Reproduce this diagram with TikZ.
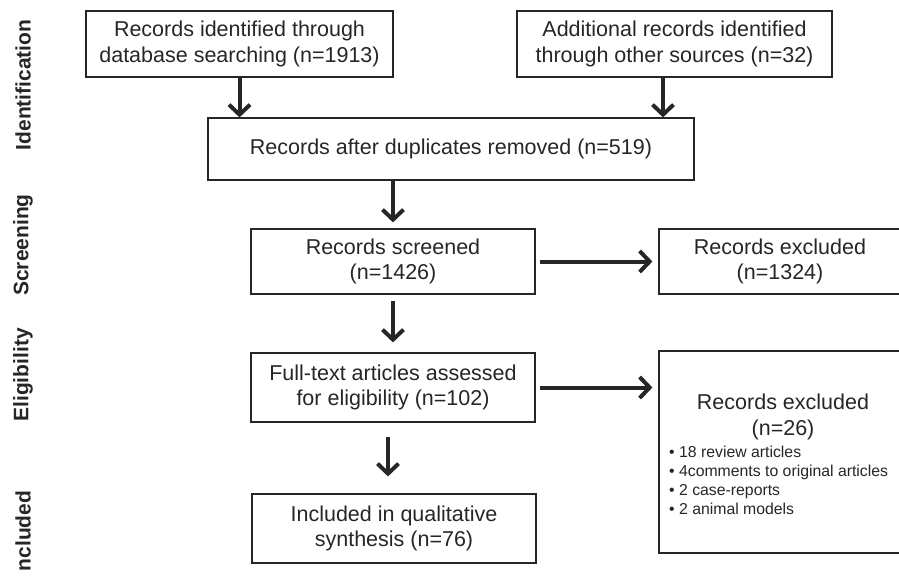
\documentclass[tikz,border=0pt]{standalone}
\usepackage{fontspec}
\setmainfont{Liberation Sans}
\usetikzlibrary{arrows.meta,calc}
\begin{document}
\begin{tikzpicture}[x=1pt,y=-1pt,
  box/.style={draw=black!85,line width=1.2pt,rectangle,inner sep=0pt,align=center,
    font=\fontsize{21.5}{25.5}\selectfont,text=black!85},
  arr/.style={line width=4pt,draw=black!85,-{Straight Barb[length=10pt,width=21pt]}},
  side/.style={rotate=90,font=\bfseries\fontsize{21}{24}\selectfont,text=black!85},
  small/.style={font=\fontsize{15.8}{19}\selectfont,text=black!85,inner sep=0pt,anchor=base west}]
\useasboundingbox (0,0) rectangle (899,579);
\clip (0,0) rectangle (899,579);
% side labels
\node[side] (l1) at (23,85) {Identification};
\node[side] (l2) at (23,245) {Screening};
\node[side] (l3) at (23,375) {Eligibility};
\node[side] (l4) at (23,531) {ncluded};
% boxes
\node[box,minimum width=307pt,minimum height=66pt] (b1) at (239.5,44) {Records identified through\\database searching (n=1913)};
\node[box,minimum width=315pt,minimum height=66pt] (b2) at (674.5,44) {Additional records identified\\through other sources (n=32)};
\node[box,minimum width=486pt,minimum height=62pt] (b3) at (451,149) {Records after duplicates removed (n=519)};
\node[box,minimum width=284pt,minimum height=65pt] (b4) at (393,261.5) {Records screened\\(n=1426)};
\node[box,minimum width=280pt,minimum height=65pt] (b5) at (799,261.5) {};
\node[box,draw=none] (t5) at (780,261.5) {Records excluded\\(n=1324)};
\node[box,minimum width=284pt,minimum height=69pt] (b6) at (393,387.5) {Full-text articles assessed\\for eligibility (n=102)};
\node[box,minimum width=280pt,minimum height=202pt] (b7) at (799,452) {};
\node[box,draw=none] (t7) at (783,417) {Records excluded\\(n=26)};
\node[small] (s1) at (669,457) {• 18 review articles};
\node[small] (s2) at (669,476) {• 4comments to original articles};
\node[small] (s3) at (669,495) {• 2 case-reports};
\node[small] (s4) at (669,514) {• 2 animal models};
\node[box,minimum width=284pt,minimum height=69pt] (b8) at (394,528.5) {Included in qualitative\\synthesis (n=76)};
% arrows
\coordinate (a2) at ($(b2.south)+(-11.5,0)$);
\draw[arr] (b1.south) -- (b1.south |- b3.north);
\draw[arr] (a2) -- (a2 |- b3.north);
\draw[arr,shorten >=6pt] (b3.south -| b4.north) -- (b4.north);
\draw[arr,shorten <=6pt,shorten >=10pt] (b4.south) -- (b6.north);
\draw[arr,shorten <=14pt,shorten >=17pt] ($(b6.south)+(-5,0)$) -- ($(b8.north)+(-6,0)$);
\draw[arr,shorten <=4pt,shorten >=6pt] (b4.east) -- (b4.east -| b5.west);
\draw[arr,shorten <=4pt,shorten >=6pt] (b6.east) -- (b6.east -| b7.west);
\end{tikzpicture}
\end{document}
